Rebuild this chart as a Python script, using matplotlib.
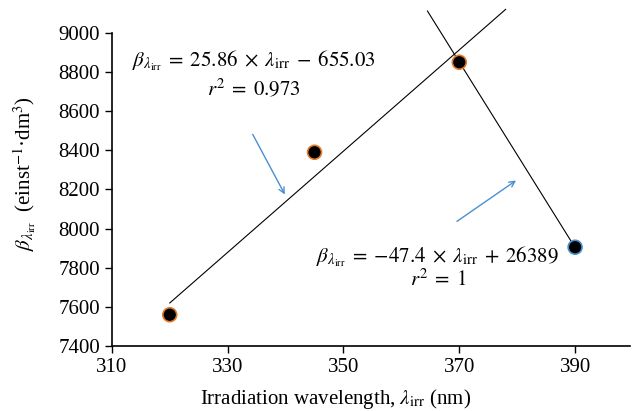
import numpy as np
import matplotlib
matplotlib.use("Agg")
import matplotlib.pyplot as plt

plt.rcParams['font.family'] = 'Liberation Serif'
plt.rcParams['mathtext.fontset'] = 'stix'

# datos
wavelength = [320, 345, 370, 390]
beta = [7560, 8390, 8850, 7905]
edge_colors = ['#e07b2a', '#e07b2a', '#e07b2a', '#4a90d0']

# ajustes lineales
slope1, icpt1 = 25.86, -655.03
slope2, icpt2 = -47.4, 26389
x_fit1 = np.array([320, 378])
x_fit2 = np.array([364.5, 390])

xticks = [310, 330, 350, 370, 390]
yticks = [7400, 7600, 7800, 8000, 8200, 8400, 8600, 8800, 9000]

fs = 15

fig = plt.figure(figsize=(6.32, 4.11), dpi=100)
ax = fig.add_axes([0.177, 0.158, 0.82, 0.762])

ax.plot(x_fit1, slope1 * x_fit1 + icpt1, color='black', lw=0.8, clip_on=False)
ax.plot(x_fit2, slope2 * x_fit2 + icpt2, color='black', lw=0.8, clip_on=False)

ax.scatter(wavelength, beta, s=100, color='black', edgecolors=edge_colors,
           linewidths=1.2, zorder=3, clip_on=False)

# flechas
ax.annotate('', xy=(340.1, 8162), xytext=(334.1, 8494),
            arrowprops=dict(arrowstyle='->', color='#4a8fd0', lw=1.0))
ax.annotate('', xy=(380.2, 8254), xytext=(369.2, 8029),
            arrowprops=dict(arrowstyle='->', color='#4a8fd0', lw=1.0))

ax.text(334.6, 8860,
        r'$\beta_{\lambda_{\rm irr}} \;=\; 25.86 \;\times\; \lambda_{\rm irr} \;-\; 655.03$',
        ha='center', va='center', fontsize=fs)
ax.text(334.6, 8712, r'$r^2 \;=\; 0.973$', ha='center', va='center', fontsize=fs)
ax.text(366.3, 7855,
        r'$\beta_{\lambda_{\rm irr}} \;=\; {-}47.4 \;\times\; \lambda_{\rm irr} \;+\; 26389$',
        ha='center', va='center', fontsize=fs)
ax.text(366.3, 7735, r'$r^2 \;=\; 1$', ha='center', va='center', fontsize=fs)

ax.set_xlim(310, 399.5)
ax.set_ylim(7400, 9000)
ax.set_xticks(xticks)
ax.set_yticks(yticks)
ax.tick_params(labelsize=fs, direction='out', length=5, width=1)
ax.spines['top'].set_visible(False)
ax.spines['right'].set_visible(False)
ax.spines['left'].set_linewidth(1.2)
ax.spines['bottom'].set_linewidth(1.2)

ax.set_xlabel(r'Irradiation wavelength, $\lambda_{\rm irr}$ (nm)', fontsize=fs)
ax.set_ylabel(r'$\beta_{\lambda_{\rm irr}}$  (einst$^{-1}$·dm$^{3}$)', fontsize=fs)
ax.xaxis.set_label_coords(0.432, -0.13)
ax.yaxis.set_label_coords(-0.145, 0.55)

fig.savefig('out.png', dpi=100)
